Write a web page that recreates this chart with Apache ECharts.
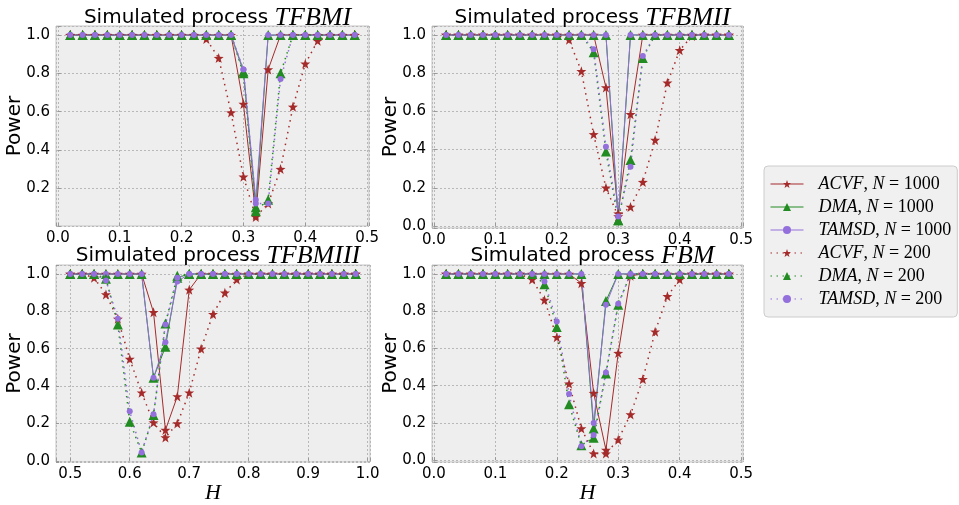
<!DOCTYPE html>
<html>
<head>
<meta charset="utf-8">
<script src="https://cdn.jsdelivr.net/npm/echarts@6/dist/echarts.min.js"></script>
<style>
  html, body { margin: 0; padding: 0; background: #fff; }
  #chart { width: 959px; height: 505px; }
</style>
</head>
<body>
<div id="chart"></div>
<script>
// H values on the x axes
var hLow = [0.02, 0.04, 0.06, 0.08, 0.10, 0.12, 0.14, 0.16, 0.18, 0.20, 0.22, 0.24,
            0.26, 0.28, 0.30, 0.32, 0.34, 0.36, 0.38, 0.40, 0.42, 0.44, 0.46, 0.48];
var hHigh = [0.50, 0.52, 0.54, 0.56, 0.58, 0.60, 0.62, 0.64, 0.66, 0.68, 0.70, 0.72, 0.74,
             0.76, 0.78, 0.80, 0.82, 0.84, 0.86, 0.88, 0.90, 0.92, 0.94, 0.96, 0.98];

// TFBMI (top left)
var acvf1000I  = [1,1,1,1,1,1,1,1,1,1,1,1,1,1, 0.64, 0.06, 0.82, 1,1,1,1,1,1,1];
var dma1000I   = [1,1,1,1,1,1,1,1,1,1,1,1,1,1, 0.81, 0.10, 1,1,1,1,1,1,1,1];
var tamsd1000I = [1,1,1,1,1,1,1,1,1,1,1,1,1,1, 0.82, 0.14, 1,1,1,1,1,1,1,1];
var acvf200I   = [1,1,1,1,1,1,1,1,1,1,1, 0.98, 0.88, 0.595, 0.26, 0.05, 0.12, 0.30, 0.625, 0.85, 0.97, 1,1,1];
var dma200I    = [1,1,1,1,1,1,1,1,1,1,1,1,1,1, 0.80, 0.08, 0.14, 0.80, 1,1,1,1,1,1];
var tamsd200I  = [1,1,1,1,1,1,1,1,1,1,1,1,1,1, 0.82, 0.12, 0.12, 0.77, 1,1,1,1,1,1];

// TFBMII (top right)
var acvf1000II  = [1,1,1,1,1,1,1,1,1,1,1,1,1, 0.725, 0.065, 0.585, 1,1,1,1,1,1,1,1];
var dma1000II   = [1,1,1,1,1,1,1,1,1,1,1,1,1,1, 0.03, 1,1,1,1,1,1,1,1,1];
var tamsd1000II = [1,1,1,1,1,1,1,1,1,1,1,1,1,1, 0.05, 1,1,1,1,1,1,1,1,1];
var acvf200II   = [1,1,1,1,1,1,1,1,1,1, 0.975, 0.81, 0.48, 0.20, 0.05, 0.10, 0.23, 0.45, 0.75, 0.92, 0.995, 1,1,1];
var dma200II    = [1,1,1,1,1,1,1,1,1,1,1,1, 0.91, 0.39, 0.03, 0.345, 0.88, 1,1,1,1,1,1,1];
var tamsd200II  = [1,1,1,1,1,1,1,1,1,1,1,1, 0.925, 0.415, 0.05, 0.31, 0.89, 1,1,1,1,1,1,1];

// TFBMIII (bottom left)
var acvf1000III  = [1,1,1,1,1,1,1, 0.795, 0.165, 0.345, 0.915, 1,1,1,1,1,1,1,1,1,1,1,1,1,1];
var dma1000III   = [1,1,1,1,1,1,1, 0.445, 0.61, 0.98, 1,1,1,1,1,1,1,1,1,1,1,1,1,1,1];
var tamsd1000III = [1,1,1,1,1,1,1, 0.445, 0.635, 0.96, 1,1,1,1,1,1,1,1,1,1,1,1,1,1,1];
var acvf200III   = [1,1, 0.98, 0.89, 0.76, 0.545, 0.365, 0.205, 0.125, 0.20, 0.365, 0.60, 0.785, 0.90, 0.97, 1,1,1,1,1,1,1,1,1,1];
var dma200III    = [1,1,1, 0.975, 0.73, 0.21, 0.045, 0.245, 0.735, 0.99, 1,1,1,1,1,1,1,1,1,1,1,1,1,1,1];
var tamsd200III  = [1,1,1, 0.965, 0.76, 0.265, 0.045, 0.25, 0.73, 0.98, 1,1,1,1,1,1,1,1,1,1,1,1,1,1,1];

// FBM (bottom right)
var acvf1000F  = [1,1,1,1,1,1,1,1,1,1,1, 0.95, 0.36, 0.055, 0.575, 0.99, 1,1,1,1,1,1,1,1];
var dma1000F   = [1,1,1,1,1,1,1,1,1,1,1,1, 0.17, 0.855, 1,1,1,1,1,1,1,1,1,1];
var tamsd1000F = [1,1,1,1,1,1,1,1,1,1,1,1, 0.20, 0.835, 1,1,1,1,1,1,1,1,1,1];
var acvf200F   = [1,1,1,1,1,1,1, 0.97, 0.86, 0.66, 0.41, 0.17, 0.035, 0.035, 0.11, 0.245, 0.435, 0.69, 0.88, 0.97, 1,1,1,1];
var dma200F    = [1,1,1,1,1,1,1,1, 0.945, 0.715, 0.30, 0.08, 0.12, 0.465, 0.835, 1,1,1,1,1,1,1,1,1];
var tamsd200F  = [1,1,1,1,1,1,1,1, 0.96, 0.745, 0.355, 0.075, 0.135, 0.47, 0.84, 1,1,1,1,1,1,1,1,1];

var seriesNames = ['ACVF, N=1000', 'DMA, N=1000', 'TAMSD, N=1000',
                   'ACVF, N=200', 'DMA, N=200', 'TAMSD, N=200'];
var panelTitles = ['TFBMI', 'TFBMII', 'TFBMIII', 'FBM'];

var panels = [
    { h: hLow,  vals: [acvf1000I, dma1000I, tamsd1000I, acvf200I, dma200I, tamsd200I] },
    { h: hLow,  vals: [acvf1000II, dma1000II, tamsd1000II, acvf200II, dma200II, tamsd200II] },
    { h: hHigh, vals: [acvf1000III, dma1000III, tamsd1000III, acvf200III, dma200III, tamsd200III] },
    { h: hLow,  vals: [acvf1000F, dma1000F, tamsd1000F, acvf200F, dma200F, tamsd200F] }
];

var STAR = 'path://M0,-10L2.35,-3.24L9.51,-3.09L3.8,1.24L5.88,8.09L0,4L-5.88,8.09L-3.8,1.24L-9.51,-3.09L-2.35,-3.24Z';
var colors = ['#a52a2a', '#228b22', '#9370db'];
var symbols = [STAR, 'triangle', 'circle'];
var symbolSizes = [10, 10, 6];

var grids = [
    { left: 56, top: 26, width: 313, height: 200 },
    { left: 432, top: 26, width: 311, height: 202 },
    { left: 56, top: 265, width: 314, height: 199 },
    { left: 432, top: 265, width: 311, height: 199 }
];
var xRanges = [[-0.003, 0.503], [-0.003, 0.503], [0.476, 1.004], [-0.003, 0.503]];
var yRanges = [[0.0025, 1.0475], [-0.0105, 1.047], [-0.006, 1.048], [-0.01, 1.048]];

var near = function (v, step) {
    return Math.abs(v / step - Math.round(v / step)) < 1e-6;
};

var chart = echarts.init(document.getElementById('chart'));

var xAxes = [], yAxes = [], series = [], titles = [];
grids.forEach(function (g, i) {
    g.show = true;
    g.backgroundColor = '#eeeeee';
    g.borderColor = '#c4c4c4';
    g.borderWidth = 1;

    xAxes.push({
        type: 'value', gridIndex: i,
        min: xRanges[i][0], max: xRanges[i][1], splitNumber: 5,
        axisLine: { show: false },
        axisTick: { show: true, inside: true, length: 3, lineStyle: { color: '#999' } },
        axisLabel: {
            color: '#000', fontSize: 15, fontFamily: 'DejaVu Sans', margin: 5,
            formatter: function (v) { return near(v, 0.1) ? v.toFixed(1) : ''; }
        },
        splitLine: { show: true, lineStyle: { color: '#b8b8b8', type: [2, 2], width: 1 } },
        name: i >= 2 ? 'H' : '',
        nameLocation: 'middle', nameGap: 20, nameMoveOverlap: false,
        nameTextStyle: { fontFamily: 'Liberation Serif', fontStyle: 'italic', fontSize: 22, color: '#000' }
    });
    yAxes.push({
        type: 'value', gridIndex: i,
        min: yRanges[i][0], max: yRanges[i][1], splitNumber: 5,
        axisLine: { show: false },
        axisTick: { show: true, inside: true, length: 3, lineStyle: { color: '#999' } },
        axisLabel: {
            color: '#000', fontSize: 15, fontFamily: 'DejaVu Sans', margin: 6,
            formatter: function (v) {
                return (near(v, 0.2) && v > -1e-6 && v < 1.0001) ? v.toFixed(1) : '';
            }
        },
        splitLine: { show: true, lineStyle: { color: '#b8b8b8', type: [2, 2], width: 1 } },
        name: 'Power', nameLocation: 'middle', nameGap: 31, nameMoveOverlap: false,
        nameTextStyle: { fontFamily: 'DejaVu Sans', fontSize: 20, color: '#000' }
    });
    titles.push({
        text: '{a|Simulated process }{b|' + panelTitles[i] + '}',
        left: g.left + g.width / 2, textAlign: 'center',
        top: i < 2 ? 0 : 238,
        textStyle: {
            fontWeight: 'normal',
            rich: {
                a: { fontFamily: 'DejaVu Sans', fontWeight: 'normal', fontSize: 20, color: '#000' },
                b: { fontFamily: 'Liberation Serif', fontStyle: 'italic', fontWeight: 'normal', fontSize: 26, color: '#000' }
            }
        }
    });

    var p = panels[i];
    p.vals.forEach(function (vals, k) {
        var m = k % 3;
        var dotted = k >= 3;
        series.push({
            name: seriesNames[k],
            type: 'line',
            xAxisIndex: i, yAxisIndex: i,
            data: p.h.map(function (h, j) { return [h, vals[j]]; }),
            symbol: symbols[m],
            symbolSize: symbolSizes[m],
            showAllSymbol: true,
            color: colors[m],
            itemStyle: { color: colors[m] },
            lineStyle: dotted
                ? { color: colors[m], width: 1.5, type: [1.5, 4.5] }
                : { color: colors[m], width: 1 },
            emphasis: { disabled: true }
        });
    });
});

var mathName = function (name) {
    var parts = name.split(', N=');
    return '{i|' + parts[0] + '}{r|, }{i|N}{r| = ' + parts[1] + '}';
};

chart.setOption({
    animation: false,
    backgroundColor: '#ffffff',
    title: titles,
    grid: grids,
    xAxis: xAxes,
    yAxis: yAxes,
    legend: {
        data: seriesNames,
        orient: 'vertical',
        left: 764, top: 166,
        backgroundColor: '#f0f0f0',
        borderColor: '#cccccc', borderWidth: 1, borderRadius: 4,
        padding: [9, 6, 9, 6],
        itemWidth: 33, itemHeight: 10, itemGap: 5,
        lineStyle: { width: 1 },
        formatter: mathName,
        textStyle: {
            rich: {
                i: { fontFamily: 'Liberation Serif', fontStyle: 'italic', fontSize: 18, color: '#000' },
                r: { fontFamily: 'Liberation Serif', fontSize: 18, color: '#000' }
            },
            padding: [0, 0, 0, 10]
        }
    },
    series: series
});
</script>
</body>
</html>
